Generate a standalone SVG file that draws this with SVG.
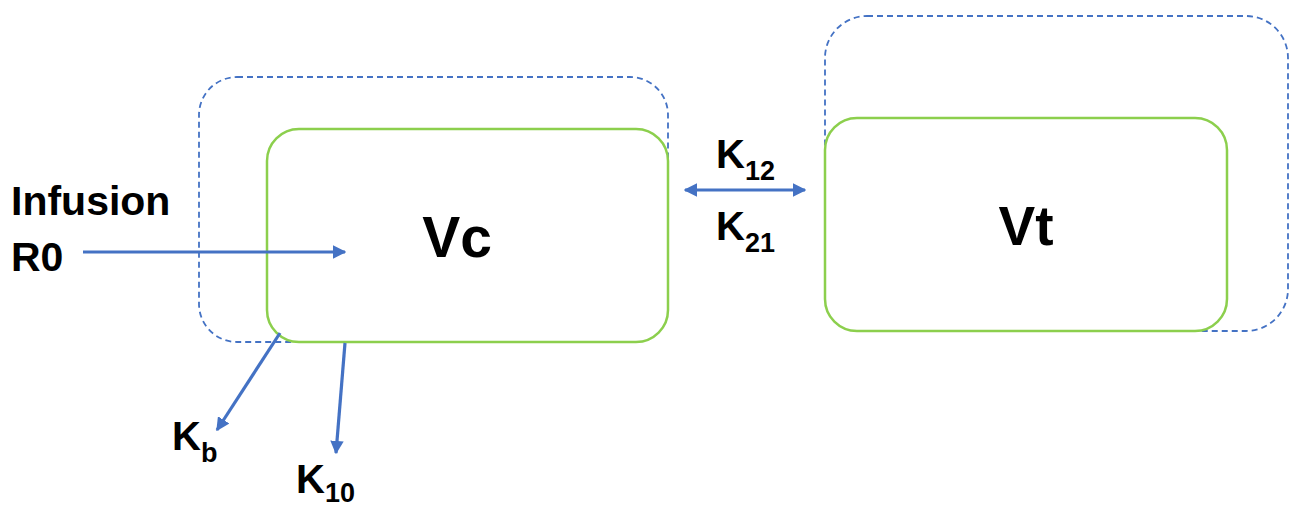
<svg xmlns="http://www.w3.org/2000/svg" width="1290" height="508" viewBox="0 0 1290 508">
<style>
.t{font-family:"Liberation Sans",Arial,sans-serif;font-weight:bold;fill:#000}
.dash{fill:none;stroke:#4472C4;stroke-width:1.8;stroke-dasharray:6 4}
.box{fill:#fff;stroke:#8CCF4D;stroke-width:2.5}
.ar{stroke:#4472C4;stroke-width:3.2;fill:none}
</style>
<defs>
<marker id="ah" viewBox="0 0 10 10" refX="9" refY="5" markerWidth="4.2" markerHeight="4.2" orient="auto-start-reverse" markerUnits="strokeWidth">
<path d="M0,0 L10,5 L0,10 z" fill="#4472C4"/>
</marker>
</defs>
<rect width="1290" height="508" fill="#fff"/>
<g id="node-vc">
<rect class="dash" x="199" y="77" width="469" height="265" rx="38"/>
<rect class="box" x="267" y="129" width="401" height="213" rx="32"/>
<text class="t" x="457" y="257" font-size="57" text-anchor="middle">Vc</text>
</g>
<g id="node-vt">
<rect class="dash" x="825" y="16" width="463" height="315" rx="42"/>
<rect class="box" x="825" y="118" width="402" height="213" rx="32"/>
<text class="t" x="1026" y="245" font-size="55" text-anchor="middle">Vt</text>
</g>
<g id="labels">
<text class="t" x="11" y="215" font-size="41">Infusion</text>
<text class="t" x="11" y="271" font-size="41">R0</text>
<text class="t" x="716" y="168" font-size="40">K<tspan font-size="27" dy="12">12</tspan></text>
<text class="t" x="716" y="240" font-size="40">K<tspan font-size="27" dy="12">21</tspan></text>
<text class="t" x="172" y="450" font-size="40">K<tspan font-size="27" dy="12">b</tspan></text>
<text class="t" x="296" y="493" font-size="40">K<tspan font-size="27" dy="9">10</tspan></text>
</g>
<g id="connectors">
<line class="ar" x1="83" y1="252" x2="345" y2="252" marker-end="url(#ah)"/>
<line class="ar" x1="685" y1="190" x2="805" y2="190" marker-start="url(#ah)" marker-end="url(#ah)"/>
<line class="ar" x1="280" y1="333" x2="217" y2="430" marker-end="url(#ah)"/>
<line class="ar" x1="345" y1="343" x2="336" y2="453" marker-end="url(#ah)"/>
</g>
</svg>
